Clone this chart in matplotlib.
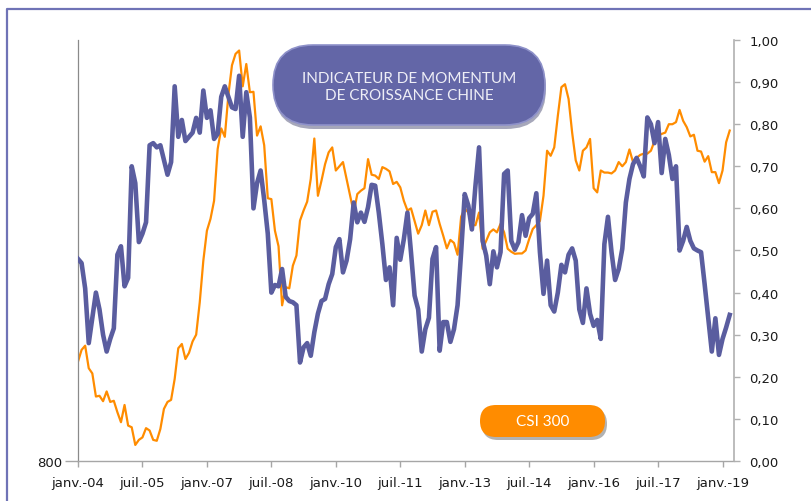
import matplotlib
matplotlib.use("Agg")
import matplotlib.pyplot as plt
from matplotlib.patches import FancyBboxPatch
from matplotlib.lines import Line2D
from matplotlib.ticker import FixedLocator, FuncFormatter, NullLocator

# ---------------- data (monthly, janv.-04 .. mars-19) ----------------
tick_labels = ["janv.-04", "juil.-05", "janv.-07", "juil.-08", "janv.-10", "juil.-11",
               "janv.-13", "juil.-14", "janv.-16", "juil.-17", "janv.-19"]

# Indicateur de momentum de croissance Chine (axe de droite, 0-1)
momentum = [
    0.48, 0.47, 0.41, 0.28, 0.34, 0.40, 0.36, 0.30, 0.26, 0.29,
    0.315, 0.49, 0.51, 0.415, 0.435, 0.70, 0.66, 0.52, 0.54, 0.567,
    0.75, 0.755, 0.745, 0.75, 0.715, 0.68, 0.71, 0.89, 0.77, 0.81,
    0.76, 0.77, 0.78, 0.815, 0.78, 0.88, 0.815, 0.833, 0.765, 0.777,
    0.865, 0.89, 0.865, 0.84, 0.836, 0.915, 0.77, 0.876, 0.816, 0.60,
    0.66, 0.69, 0.62, 0.54, 0.40, 0.418, 0.415, 0.456, 0.39, 0.38,
    0.377, 0.37, 0.234, 0.27, 0.28, 0.25, 0.306, 0.35, 0.38, 0.385,
    0.42, 0.444, 0.508, 0.527, 0.448, 0.476, 0.527, 0.614, 0.567, 0.59,
    0.568, 0.603, 0.656, 0.654, 0.59, 0.515, 0.43, 0.46, 0.37, 0.53,
    0.478, 0.527, 0.59, 0.495, 0.393, 0.36, 0.26, 0.313, 0.34, 0.48,
    0.508, 0.262, 0.33, 0.33, 0.283, 0.313, 0.37, 0.496, 0.634, 0.607,
    0.55, 0.654, 0.745, 0.523, 0.488, 0.42, 0.498, 0.46, 0.496, 0.682,
    0.69, 0.523, 0.502, 0.52, 0.584, 0.535, 0.577, 0.587, 0.636, 0.496,
    0.397, 0.476, 0.37, 0.355, 0.40, 0.466, 0.448, 0.49, 0.505, 0.476,
    0.36, 0.328, 0.41, 0.35, 0.321, 0.335, 0.29, 0.515, 0.58, 0.496,
    0.43, 0.456, 0.504, 0.614, 0.67, 0.705, 0.72, 0.70, 0.676, 0.816,
    0.80, 0.755, 0.805, 0.684, 0.765, 0.727, 0.67, 0.70, 0.50, 0.523,
    0.556, 0.523, 0.505, 0.50, 0.496, 0.42, 0.34, 0.26, 0.339, 0.252,
    0.29, 0.317, 0.347,
]

# CSI 300 (axe de gauche, échelle log à partir de 800)
csi300 = [
    1307, 1385, 1414, 1265, 1233, 1100, 1104, 1075, 1128, 1071,
    1077, 1018, 969, 1055, 953, 945, 866, 888, 899, 941,
    930, 888, 884, 937, 1035, 1071, 1082, 1200, 1396, 1426,
    1324, 1365, 1444, 1493, 1752, 2152, 2495, 2645, 2892, 3734,
    4135, 3967, 4884, 5649, 5976, 6076, 5091, 5684, 4945, 4955,
    3991, 4178, 3805, 2929, 2916, 2495, 2311, 1726, 1888, 1877,
    2099, 2207, 2623, 2757, 2880, 3222, 3934, 2965, 3195, 3466,
    3674, 3765, 3359, 3430, 3502, 3222, 2965, 2729, 2990, 3040,
    3078, 3553, 3290, 3276, 3222, 3416, 3387, 3345, 3143, 3176,
    3091, 2892, 2757, 2786, 2618, 2459, 2564, 2757, 2564, 2740,
    2757, 2580, 2434, 2287, 2384, 2349, 2216, 2673, 2786, 2729,
    2564, 2564, 2729, 2282, 2374, 2475, 2511, 2475, 2580, 2475,
    2282, 2249, 2226, 2230, 2230, 2263, 2394, 2516, 2564, 2618,
    2965, 3704, 3613, 3765, 4401, 5070, 5144, 4783, 4050, 3531,
    3359, 3704, 3765, 3926, 3078, 3015, 3359, 3325, 3325, 3311,
    3359, 3502, 3430, 3502, 3727, 3502, 3576, 3628, 3651, 3651,
    3704, 3885, 3991, 4025, 4050, 4222, 4222, 4266, 4531, 4293,
    4161, 3975, 4008, 3704, 3689, 3509, 3606, 3332, 3332, 3156,
    3359, 3861, 4092,
]

months = list(range(len(momentum)))
tick_pos = [18 * i for i in range(len(tick_labels))]

BLUE = "#5a5d9f"
ORANGE = "#ff8c00"

fig = plt.figure(figsize=(8.12, 5.02), dpi=100)
fig.patch.set_facecolor("white")

W, H = 812.0, 502.0
ax = fig.add_axes([78 / W, 1 - 462 / H, 656 / W, 421 / H])
ax2 = ax.twinx()

# left axis: CSI 300
ax.plot(months, csi300, color=ORANGE, lw=1.6, solid_joinstyle="round")
ax.set_yscale("log")
ax.set_ylim(800, 6400)
ax.yaxis.set_major_locator(FixedLocator([800]))
ax.yaxis.set_minor_locator(NullLocator())
ax.yaxis.set_major_formatter(FuncFormatter(lambda v, p: f"{v:.0f}"))
ax.set_xlim(0, 183.2)
ax.set_xticks(tick_pos)
ax.set_xticklabels(tick_labels)

# right axis: momentum
ax2.plot(months, momentum, color=BLUE, lw=3.3, solid_joinstyle="round")
ax2.set_ylim(0, 1)
ax2.set_yticks([i / 10 for i in range(11)])
ax2.yaxis.set_major_formatter(FuncFormatter(lambda v, p: f"{v:.2f}".replace(".", ",")))

for a in (ax, ax2):
    a.spines["top"].set_visible(False)
    a.set_facecolor("none")
ax.spines["right"].set_visible(False)
ax2.spines["left"].set_visible(False)
ax2.spines["bottom"].set_visible(False)
ax.spines["left"].set_color("#8a8a8a")
ax.spines["left"].set_linewidth(0.9)
ax.spines["bottom"].set_color("#a6a6a6")
ax.spines["bottom"].set_linewidth(1.0)
ax2.spines["right"].set_color("#b0b0b0")
ax2.spines["right"].set_linewidth(1.2)

ax.tick_params(axis="x", direction="out", length=4, width=1, color="#a6a6a6",
               pad=7, labelsize=9.5, labelcolor="#1a1a1a")
ax.tick_params(axis="y", direction="out", length=9.5, width=1, color="#a6a6a6",
               pad=2, labelsize=9.5, labelcolor="#1a1a1a")
ax2.tick_params(axis="y", direction="out", length=4, width=1, color="#b0b0b0",
                pad=7, labelsize=9.5, labelcolor="#1a1a1a")

# ---------------- overlay (frame + labels), pixel coordinates ----------------
ov = fig.add_axes([0, 0, 1, 1], zorder=10)
ov.set_xlim(0, W)
ov.set_ylim(H, 0)
ov.axis("off")
ov.patch.set_alpha(0)

ov.add_line(Line2D([7, 7, 815], [505, 10, 10], color="#6f73b6", lw=1.6))

# title pill
ov.add_patch(FancyBboxPatch((274, 49), 272, 81, boxstyle="round,pad=0,rounding_size=40",
                            fc="#3a3c66", ec="none", alpha=0.45))
ov.add_patch(FancyBboxPatch((273, 46), 272, 80, boxstyle="round,pad=0,rounding_size=40",
                            fc="#6366a7", ec="#8e91c9", lw=1.2))
ov.text(409, 87.5, "INDICATEUR DE MOMENTUM\nDE CROISSANCE CHINE", ha="center", va="center",
        color="#eeeef6", fontsize=11, family="Lato", linespacing=1.3)

# CSI 300 pill
ov.add_patch(FancyBboxPatch((482, 409), 125, 32, boxstyle="round,pad=0,rounding_size=16",
                            fc="#555555", ec="none", alpha=0.45))
ov.add_patch(FancyBboxPatch((480, 406), 125, 32, boxstyle="round,pad=0,rounding_size=16",
                            fc=ORANGE, ec="none"))
ov.text(542.5, 422.5, "CSI 300", ha="center", va="center", color="white",
        fontsize=11, family="Lato")

fig.savefig("out.png", dpi=100)
